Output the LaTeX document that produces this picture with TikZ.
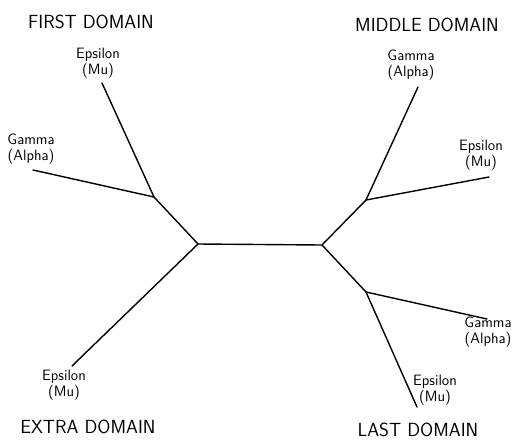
\documentclass[tikz,border=0pt]{standalone}
\begin{document}
\begin{tikzpicture}[x=1pt,y=-1pt,
  branch/.style={line width=1.4pt,line cap=round,line join=round},
  leaflabel/.style={font=\sffamily\fontsize{15}{15.5}\selectfont,align=center,inner sep=0pt},
  domainlabel/.style={font=\sffamily\fontsize{19}{20}\selectfont,inner sep=0pt}]
\useasboundingbox (0,0) rectangle (514,440);
% junctions
\coordinate (cL) at (198,244);
\coordinate (cR) at (322,245);
\coordinate (nUL) at (154,197);
\coordinate (nUR) at (366,200);
\coordinate (nLR) at (366,292);
% leaf ends
\coordinate (eULa) at (102,83);
\coordinate (eULb) at (33,170);
\coordinate (eLL) at (72,366);
\coordinate (eURa) at (418,87);
\coordinate (eURb) at (489,177);
\coordinate (eLRa) at (487,319);
\coordinate (eLRb) at (417,407);
% branches
\draw[branch] (cL) -- (cR);
\draw[branch] (cL) -- (nUL);
\draw[branch] (nUL) -- (eULa);
\draw[branch] (nUL) -- (eULb);
\draw[branch] (cL) -- (eLL);
\draw[branch] (cR) -- (nUR);
\draw[branch] (nUR) -- (eURa);
\draw[branch] (nUR) -- (eURb);
\draw[branch] (cR) -- (nLR);
\draw[branch] (nLR) -- (eLRa);
\draw[branch] (nLR) -- (eLRb);
% leaf labels
\node[leaflabel] (lULa) at (98,63) {Epsilon\\(Mu)};
\node[leaflabel] (lULb) at (31,149) {Gamma\\(Alpha)};
\node[leaflabel] (lLL) at (64,385) {Epsilon\\(Mu)};
\node[leaflabel] (lURa) at (411,65) {Gamma\\(Alpha)};
\node[leaflabel] (lURb) at (481,155) {Epsilon\\(Mu)};
\node[leaflabel] (lLRa) at (488,332) {Gamma\\(Alpha)};
\node[leaflabel] (lLRb) at (435,390) {Epsilon\\(Mu)};
% domain labels
\node[domainlabel] (dF) at (91,22) {FIRST DOMAIN};
\node[domainlabel] (dM) at (427,25) {MIDDLE DOMAIN};
\node[domainlabel] (dE) at (88,427) {EXTRA DOMAIN};
\node[domainlabel] (dL) at (418,430) {LAST DOMAIN};
\end{tikzpicture}
\end{document}
